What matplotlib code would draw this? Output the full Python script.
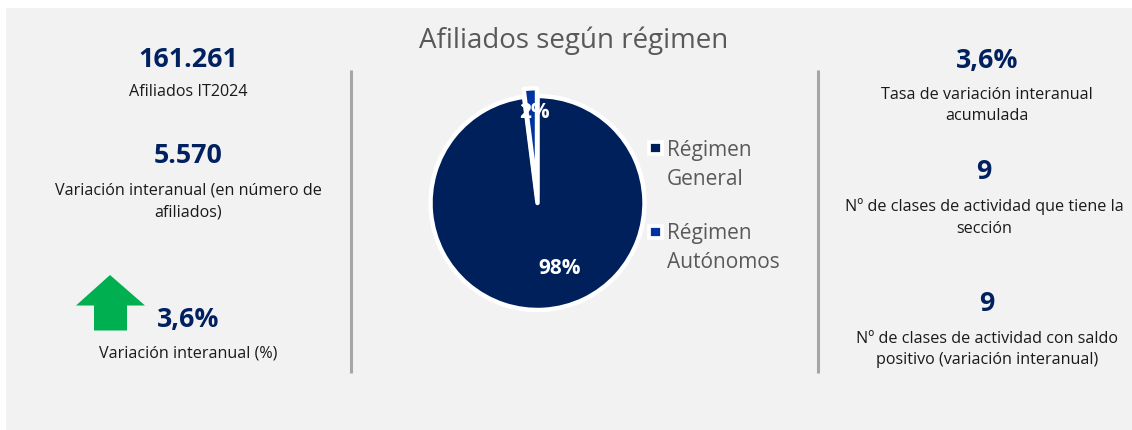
# coding:utf-8
import matplotlib
matplotlib.use('Agg')
import matplotlib.pyplot as plt
from matplotlib.patches import Polygon, Rectangle

regimen = ['Régimen\nGeneral', 'Régimen\nAutónomos']
shares = [98, 2]
share_labels = ['98%', '2%']
pie_colors = ['#00205c', '#0033a0']

left_values = ['161.261', '5.570', '3,6%']
left_labels = ['Afiliados IT2024', 'Variación interanual (en número de\nafiliados)', 'Variación interanual (%)']
right_values = ['3,6%', '9', '9']
right_labels = ['Tasa de variación interanual\nacumulada',
                'Nº de clases de actividad que tiene la\nsección',
                'Nº de clases de actividad con saldo\npositivo (variación interanual)']

navy = '#002060'
panel = '#f2f2f2'
grey = '#595959'

plt.rcParams['font.family'] = ['Open Sans', 'DejaVu Sans']

W, H = 1132, 430
fig = plt.figure(figsize=(W / 100, H / 100), dpi=100, facecolor='white')

# fondo en coordenadas de pixel
bg = fig.add_axes([0, 0, 1, 1])
bg.set_xlim(0, W)
bg.set_ylim(H, 0)
bg.axis('off')
bg.add_patch(Rectangle((6, 8), W - 6, H - 8, fc=panel, ec='none'))

# separadores
bg.plot([351, 351], [70, 373], color='#a6a6a6', lw=2.2, solid_capstyle='butt')
bg.plot([818, 818], [70, 373], color='#a6a6a6', lw=2.2, solid_capstyle='butt')

bg.text(574, 41, 'Afiliados según régimen', fontsize=20, color=grey, ha='center', va='center')

# columna izquierda
left_x = [188, 188, 188]
left_vy = [60, 156, 320]
left_ly = [92.5, 201.5, 353.5]
for x, vy, ly, v, l in zip(left_x, left_vy, left_ly, left_values, left_labels):
    bg.text(x, vy, v, fontsize=19.3, fontweight='bold', color=navy, ha='center', va='center')
    bg.text(x, ly, l, fontsize=11.6, color='#1a1a1a', ha='center', va='center', linespacing=1.45)

# columna derecha
right_x = [987, 984, 987]
value_x = [987, 984, 987]
right_vy = [61, 172, 304]
right_ly = [105.5, 217.5, 349.5]
for x, vx, vy, ly, v, l in zip(right_x, value_x, right_vy, right_ly, right_values, right_labels):
    bg.text(vx, vy, v, fontsize=19.3, fontweight='bold', color=navy, ha='center', va='center')
    bg.text(x, ly, l, fontsize=11.6, color='#1a1a1a', ha='center', va='center', linespacing=1.45)

# flecha verde
bg.add_patch(Polygon([(110, 275), (145, 305.5), (127, 305.5), (127, 330.5),
                      (94, 330.5), (94, 305.5), (76, 305.5)], closed=True, fc='#00b050', ec='none'))

# tarta
cx, cy, r = 537.5, 203, 107
pie_ax = fig.add_axes([(cx - 130) / W, 1 - (cy + 130) / H, 260 / W, 260 / H])
wedges, _ = pie_ax.pie(shares, colors=pie_colors, startangle=90, counterclock=False,
                       radius=r / 130, center=(0, 0), explode=[0, 0.06],
                       wedgeprops=dict(edgecolor='white', linewidth=3.2, joinstyle='round'))
pie_ax.set_xlim(-1, 1)
pie_ax.set_ylim(-1, 1)
pie_ax.set_aspect('equal')
for w in wedges:
    w.set_clip_on(False)

bg.set_zorder(0)
pie_ax.set_zorder(1)
pie_ax.patch.set_visible(False)

top = fig.add_axes([0, 0, 1, 1], zorder=2)
top.set_xlim(0, W)
top.set_ylim(H, 0)
top.axis('off')
top.text(560, 269, share_labels[0], fontsize=15, fontweight='bold', color='white', ha='center', va='center')
top.text(534, 113, share_labels[1], fontsize=15, fontweight='bold', color='white', ha='center', va='center')

# leyenda
legend_y = [148, 232]
text_y = [165, 248]
for ly, ty, c, name in zip(legend_y, text_y, pie_colors, regimen):
    top.add_patch(Rectangle((649, ly - 6.4), 12.8, 12.8, fc=c, ec='white', lw=2.7))
    top.text(667, ty, name, fontsize=15, color=grey, ha='left', va='center', linespacing=1.55)

fig.savefig('out.png', dpi=100, facecolor='white')
